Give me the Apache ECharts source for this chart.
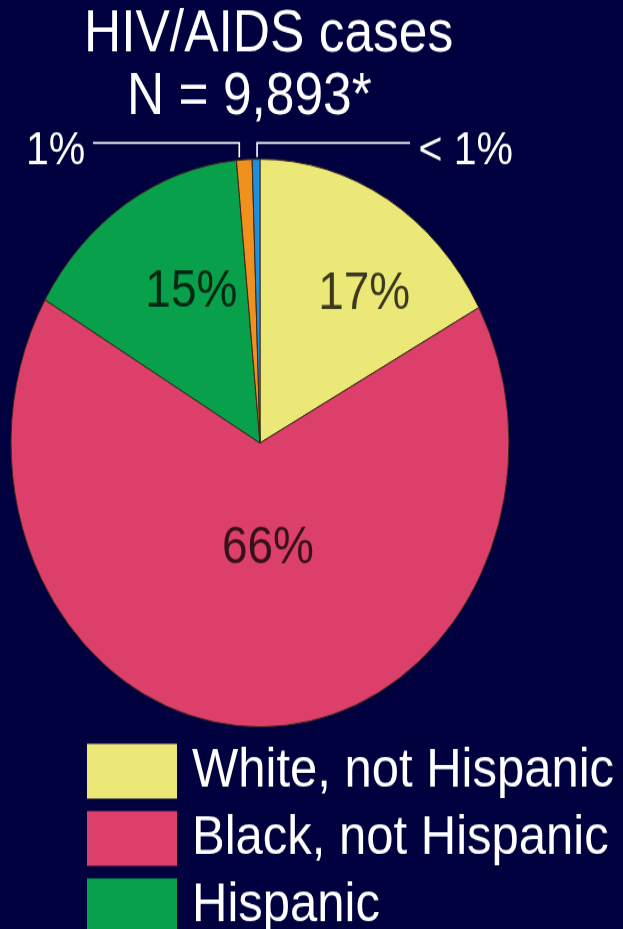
<!DOCTYPE html>
<html>
<head>
<meta charset="utf-8">
<script src="https://cdn.jsdelivr.net/npm/echarts@6/dist/echarts.min.js"></script>
<style>
  html, body { margin: 0; padding: 0; background: #01013f; overflow: hidden; }
  #wrap { width: 623px; height: 929px; overflow: hidden; background: #01013f; }
  #chart { width: 623px; height: 880px; transform: scaleY(1.14); transform-origin: 0 0; }
</style>
</head>
<body>
<div id="wrap"><div id="chart"></div></div>
<script>
// Data
var titleLines = ['HIV/AIDS cases', 'N = 9,893*'];
var categories = ['White, not Hispanic', 'Black, not Hispanic', 'Hispanic', 'Asian/Pacific Islander', 'American Indian/Alaska Native'];
var values = [17, 66, 15, 1, 0.5];
var labelTexts = ['17%', '66%', '15%', '1%', '< 1%'];
var legendNames = ['White, not Hispanic', 'Black, not Hispanic', 'Hispanic'];
var colors = ['#ece878', '#dc406a', '#08a04a', '#f0901e', '#1e8fe0'];

// Styling / placement (not data)
var insideShift = [[39, -21], [10, -35], [0, -25]];
var font = 'Liberation Sans, Arial, sans-serif';
var leaderY = 125.4;

var chart = echarts.init(document.getElementById('chart'), null, { renderer: 'canvas' });

var seriesData = categories.map(function (name, i) {
  var item = { name: name, value: values[i], itemStyle: { color: colors[i] } };
  if (i >= 3) {
    item.label = { position: 'outside', color: '#ffffff', fontSize: 41 };
    item.labelLine = { show: true, length: 10, length2: 10, lineStyle: { color: '#ffffff', width: 1.6 } };
  }
  return item;
});

var option = {
  backgroundColor: '#01013f',
  animation: false,
  title: [
    { text: titleLines[0], left: 84, top: 6, padding: 0,
      textStyle: { color: '#ffffff', fontSize: 51.5, fontWeight: 'normal', fontFamily: font, lineHeight: 50 } },
    { text: titleLines[1], left: 127, top: 61, padding: 0,
      textStyle: { color: '#ffffff', fontSize: 51.5, fontWeight: 'normal', fontFamily: font, lineHeight: 50 } }
  ],
  legend: {
    data: legendNames,
    orient: 'vertical',
    left: 87,
    top: 652,
    padding: 0,
    itemWidth: 90,
    itemHeight: 48,
    itemGap: 10,
    icon: 'rect',
    selectedMode: false,
    itemStyle: { borderWidth: 0 },
    textStyle: { color: '#ffffff', fontSize: 49, fontFamily: font, lineHeight: 48, padding: [0, 0, 0, 10] }
  },
  series: [{
    type: 'pie',
    center: [260, 388.6],
    radius: [0, 249],
    startAngle: 90,
    clockwise: true,
    avoidLabelOverlap: false,
    minShowLabelAngle: 0,
    padAngle: 0,
    itemStyle: { borderColor: '#3a2a18', borderWidth: 1, borderRadius: 0 },
    emphasis: { disabled: true },
    label: {
      show: true,
      position: 'inside',
      color: 'rgba(0,0,0,0.75)',
      fontSize: 46,
      fontFamily: font,
      fontWeight: 'normal',
      textBorderWidth: 0,
      formatter: function (p) { return labelTexts[p.dataIndex]; }
    },
    labelLine: { show: false },
    labelLayout: function (p) {
      var i = p.dataIndex;
      if (i >= 3) {
        var pts = p.labelLinePoints;
        var s = pts && pts[0] ? pts[0] : [260, 140];
        if (i === 3) {
          return {
            x: 26, y: 133, align: 'left', verticalAlign: 'middle',
            labelLinePoints: [[s[0] - 5, s[1] - 2], [s[0] - 5, leaderY], [93, leaderY]]
          };
        }
        return {
          x: 513, y: 133, align: 'right', verticalAlign: 'middle',
          labelLinePoints: [[s[0] + 1, s[1] - 2], [s[0] + 1, leaderY], [410, leaderY]]
        };
      }
      return { dx: insideShift[i][0], dy: insideShift[i][1] };
    },
    data: seriesData
  }]
};

chart.setOption(option);
</script>
</body>
</html>
